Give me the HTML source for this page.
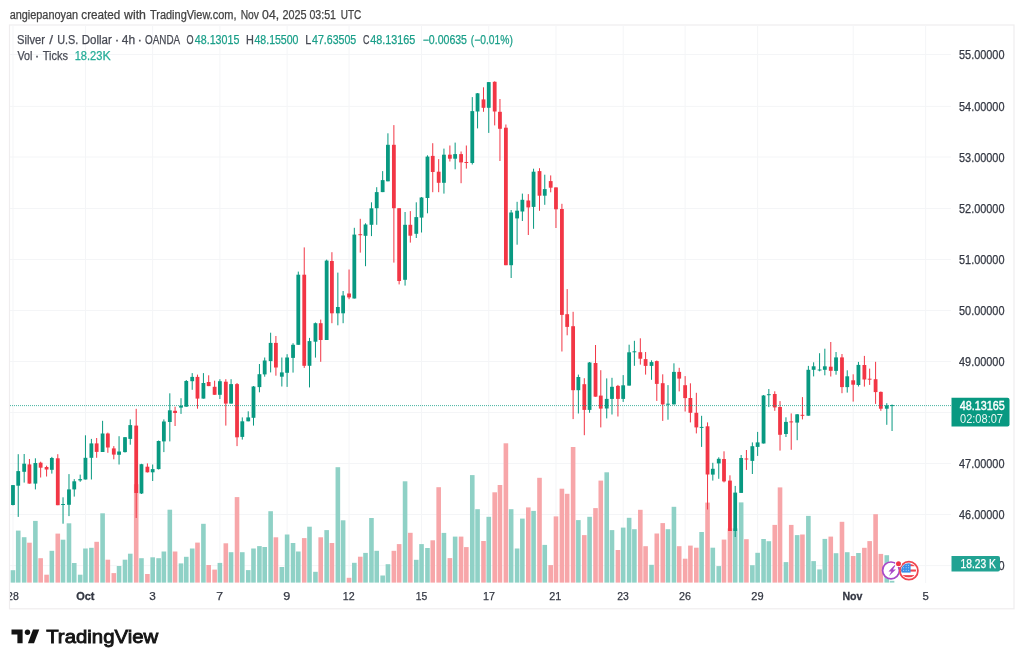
<!DOCTYPE html><html><head><meta charset="utf-8"><title>Silver / U.S. Dollar chart</title>
<style>html,body{margin:0;padding:0;background:#fff;}svg{display:block;will-change:transform}text{font-family:"Liberation Sans",sans-serif}</style></head><body>
<svg width="1024" height="665" viewBox="0 0 1024 665">
<rect x="0" y="0" width="1024" height="665" fill="#ffffff"/>
<text x="9.66" y="18.6" font-size="12" fill="#434343" textLength="68.43" lengthAdjust="spacingAndGlyphs" stroke="#434343" stroke-width="0.25">angiepanoyan</text>
<text x="81.33" y="18.6" font-size="12" fill="#434343" textLength="39.04" lengthAdjust="spacingAndGlyphs" stroke="#434343" stroke-width="0.25">created</text>
<text x="124.00" y="18.6" font-size="12" fill="#434343" textLength="21.94" lengthAdjust="spacingAndGlyphs" stroke="#434343" stroke-width="0.25">with</text>
<text x="149.98" y="18.6" font-size="12" fill="#434343" textLength="86.58" lengthAdjust="spacingAndGlyphs" stroke="#434343" stroke-width="0.25">TradingView.com,</text>
<text x="240.68" y="18.6" font-size="12" fill="#434343" textLength="18.26" lengthAdjust="spacingAndGlyphs" stroke="#434343" stroke-width="0.25">Nov</text>
<text x="262.11" y="18.6" font-size="12" fill="#434343" textLength="16.99" lengthAdjust="spacingAndGlyphs" stroke="#434343" stroke-width="0.25">04,</text>
<text x="282.46" y="18.6" font-size="12" fill="#434343" textLength="24.17" lengthAdjust="spacingAndGlyphs" stroke="#434343" stroke-width="0.25">2025</text>
<text x="309.48" y="18.6" font-size="12" fill="#434343" textLength="26.53" lengthAdjust="spacingAndGlyphs" stroke="#434343" stroke-width="0.25">03:51</text>
<text x="340.65" y="18.6" font-size="12" fill="#434343" textLength="20.61" lengthAdjust="spacingAndGlyphs" stroke="#434343" stroke-width="0.25">UTC</text>
<rect x="9.5" y="25" width="1004.5" height="583.8" fill="#ffffff" stroke="#efedee" stroke-width="1.2"/>
<defs><clipPath id="pane"><rect x="10" y="25" width="941" height="558"/></clipPath><clipPath id="taxis"><rect x="10" y="583" width="1003" height="25.5"/></clipPath></defs>
<g stroke="#f4f5f7" stroke-width="1" clip-path="url(#pane)"><line x1="12.97" y1="25" x2="12.97" y2="583" /><line x1="85.45" y1="25" x2="85.45" y2="583" /><line x1="152.67" y1="25" x2="152.67" y2="583" /><line x1="219.88" y1="25" x2="219.88" y2="583" /><line x1="287.10" y1="25" x2="287.10" y2="583" /><line x1="349.05" y1="25" x2="349.05" y2="583" /><line x1="421.53" y1="25" x2="421.53" y2="583" /><line x1="488.75" y1="25" x2="488.75" y2="583" /><line x1="555.97" y1="25" x2="555.97" y2="583" /><line x1="623.18" y1="25" x2="623.18" y2="583" /><line x1="685.14" y1="25" x2="685.14" y2="583" /><line x1="757.62" y1="25" x2="757.62" y2="583" /><line x1="853.18" y1="25" x2="853.18" y2="583" /><line x1="925.66" y1="25" x2="925.66" y2="583" /><line x1="10" y1="565.60" x2="951" y2="565.60" /><line x1="10" y1="514.50" x2="951" y2="514.50" /><line x1="10" y1="463.50" x2="951" y2="463.50" /><line x1="10" y1="412.50" x2="951" y2="412.50" /><line x1="10" y1="361.50" x2="951" y2="361.50" /><line x1="10" y1="310.50" x2="951" y2="310.50" /><line x1="10" y1="259.50" x2="951" y2="259.50" /><line x1="10" y1="208.50" x2="951" y2="208.50" /><line x1="10" y1="157.00" x2="951" y2="157.00" /><line x1="10" y1="106.40" x2="951" y2="106.40" /><line x1="10" y1="54.50" x2="951" y2="54.50" /></g>
<g clip-path="url(#pane)"><rect x="10.67" y="570.2" width="4.6" height="12.4" fill="#8fd1c6"/><rect x="15.93" y="530.6" width="4.6" height="52.0" fill="#8fd1c6"/><rect x="21.87" y="537.2" width="4.6" height="45.4" fill="#8fd1c6"/><rect x="27.13" y="542.7" width="4.6" height="39.9" fill="#f7a6a9"/><rect x="33.08" y="520.9" width="4.6" height="61.7" fill="#8fd1c6"/><rect x="38.34" y="558.2" width="4.6" height="24.4" fill="#f7a6a9"/><rect x="44.28" y="574.7" width="4.6" height="7.9" fill="#f7a6a9"/><rect x="49.54" y="550.8" width="4.6" height="31.8" fill="#8fd1c6"/><rect x="55.48" y="533.6" width="4.6" height="49.0" fill="#f7a6a9"/><rect x="60.74" y="539.7" width="4.6" height="42.9" fill="#8fd1c6"/><rect x="66.68" y="523.3" width="4.6" height="59.3" fill="#8fd1c6"/><rect x="71.95" y="563.0" width="4.6" height="19.6" fill="#8fd1c6"/><rect x="77.89" y="574.7" width="4.6" height="7.9" fill="#8fd1c6"/><rect x="83.15" y="548.5" width="4.6" height="34.1" fill="#8fd1c6"/><rect x="89.09" y="547.8" width="4.6" height="34.8" fill="#8fd1c6"/><rect x="94.35" y="541.8" width="4.6" height="40.8" fill="#f7a6a9"/><rect x="100.29" y="513.3" width="4.6" height="69.3" fill="#8fd1c6"/><rect x="105.55" y="559.7" width="4.6" height="22.9" fill="#f7a6a9"/><rect x="111.50" y="573.1" width="4.6" height="9.5" fill="#f7a6a9"/><rect x="116.76" y="566.0" width="4.6" height="16.6" fill="#8fd1c6"/><rect x="122.70" y="559.7" width="4.6" height="22.9" fill="#8fd1c6"/><rect x="127.96" y="553.7" width="4.6" height="28.9" fill="#8fd1c6"/><rect x="133.90" y="484.2" width="4.6" height="98.4" fill="#f7a6a9"/><rect x="139.16" y="558.2" width="4.6" height="24.4" fill="#8fd1c6"/><rect x="145.10" y="574.0" width="4.6" height="8.6" fill="#f7a6a9"/><rect x="150.37" y="557.3" width="4.6" height="25.3" fill="#8fd1c6"/><rect x="156.31" y="558.2" width="4.6" height="24.4" fill="#8fd1c6"/><rect x="161.57" y="551.5" width="4.6" height="31.1" fill="#8fd1c6"/><rect x="167.51" y="509.7" width="4.6" height="72.9" fill="#8fd1c6"/><rect x="172.77" y="551.5" width="4.6" height="31.1" fill="#f7a6a9"/><rect x="178.71" y="563.4" width="4.6" height="19.2" fill="#8fd1c6"/><rect x="183.97" y="556.8" width="4.6" height="25.8" fill="#8fd1c6"/><rect x="189.91" y="548.5" width="4.6" height="34.1" fill="#8fd1c6"/><rect x="195.18" y="542.6" width="4.6" height="40.0" fill="#f7a6a9"/><rect x="201.12" y="523.8" width="4.6" height="58.8" fill="#8fd1c6"/><rect x="206.38" y="565.0" width="4.6" height="17.6" fill="#f7a6a9"/><rect x="212.32" y="569.6" width="4.6" height="13.0" fill="#f7a6a9"/><rect x="217.58" y="562.9" width="4.6" height="19.7" fill="#8fd1c6"/><rect x="223.52" y="543.3" width="4.6" height="39.3" fill="#f7a6a9"/><rect x="228.78" y="552.2" width="4.6" height="30.4" fill="#8fd1c6"/><rect x="234.73" y="497.1" width="4.6" height="85.5" fill="#f7a6a9"/><rect x="239.99" y="552.2" width="4.6" height="30.4" fill="#8fd1c6"/><rect x="245.93" y="570.1" width="4.6" height="12.5" fill="#8fd1c6"/><rect x="251.19" y="548.5" width="4.6" height="34.1" fill="#8fd1c6"/><rect x="257.13" y="546.1" width="4.6" height="36.5" fill="#8fd1c6"/><rect x="262.39" y="547.0" width="4.6" height="35.6" fill="#8fd1c6"/><rect x="268.33" y="511.2" width="4.6" height="71.4" fill="#8fd1c6"/><rect x="273.60" y="537.3" width="4.6" height="45.3" fill="#f7a6a9"/><rect x="279.54" y="567.0" width="4.6" height="15.6" fill="#8fd1c6"/><rect x="284.80" y="534.5" width="4.6" height="48.1" fill="#8fd1c6"/><rect x="290.74" y="543.0" width="4.6" height="39.6" fill="#8fd1c6"/><rect x="296.00" y="551.5" width="4.6" height="31.1" fill="#8fd1c6"/><rect x="301.94" y="538.1" width="4.6" height="44.5" fill="#f7a6a9"/><rect x="307.20" y="526.7" width="4.6" height="55.9" fill="#8fd1c6"/><rect x="313.15" y="571.8" width="4.6" height="10.8" fill="#8fd1c6"/><rect x="318.41" y="537.3" width="4.6" height="45.3" fill="#f7a6a9"/><rect x="324.35" y="530.1" width="4.6" height="52.5" fill="#8fd1c6"/><rect x="329.61" y="543.0" width="4.6" height="39.6" fill="#f7a6a9"/><rect x="335.55" y="467.2" width="4.6" height="115.4" fill="#8fd1c6"/><rect x="340.81" y="520.3" width="4.6" height="62.3" fill="#8fd1c6"/><rect x="346.75" y="577.8" width="4.6" height="4.8" fill="#f7a6a9"/><rect x="352.02" y="562.8" width="4.6" height="19.8" fill="#8fd1c6"/><rect x="357.96" y="556.7" width="4.6" height="25.9" fill="#f7a6a9"/><rect x="363.22" y="552.9" width="4.6" height="29.7" fill="#8fd1c6"/><rect x="369.16" y="518.0" width="4.6" height="64.6" fill="#8fd1c6"/><rect x="374.42" y="550.8" width="4.6" height="31.8" fill="#8fd1c6"/><rect x="380.36" y="575.5" width="4.6" height="7.1" fill="#8fd1c6"/><rect x="385.62" y="564.2" width="4.6" height="18.4" fill="#8fd1c6"/><rect x="391.57" y="550.8" width="4.6" height="31.8" fill="#f7a6a9"/><rect x="396.83" y="544.1" width="4.6" height="38.5" fill="#f7a6a9"/><rect x="402.77" y="481.3" width="4.6" height="101.3" fill="#8fd1c6"/><rect x="408.03" y="532.8" width="4.6" height="49.8" fill="#f7a6a9"/><rect x="413.97" y="559.8" width="4.6" height="22.8" fill="#8fd1c6"/><rect x="419.23" y="544.1" width="4.6" height="38.5" fill="#8fd1c6"/><rect x="425.17" y="548.0" width="4.6" height="34.6" fill="#8fd1c6"/><rect x="430.44" y="540.3" width="4.6" height="42.3" fill="#f7a6a9"/><rect x="436.38" y="487.2" width="4.6" height="95.4" fill="#f7a6a9"/><rect x="441.64" y="532.9" width="4.6" height="49.7" fill="#8fd1c6"/><rect x="447.58" y="558.1" width="4.6" height="24.5" fill="#f7a6a9"/><rect x="452.84" y="536.6" width="4.6" height="46.0" fill="#8fd1c6"/><rect x="458.78" y="536.6" width="4.6" height="46.0" fill="#f7a6a9"/><rect x="464.04" y="547.1" width="4.6" height="35.5" fill="#f7a6a9"/><rect x="469.98" y="475.1" width="4.6" height="107.5" fill="#8fd1c6"/><rect x="475.25" y="509.2" width="4.6" height="73.4" fill="#8fd1c6"/><rect x="481.19" y="541.0" width="4.6" height="41.6" fill="#f7a6a9"/><rect x="486.45" y="516.8" width="4.6" height="65.8" fill="#8fd1c6"/><rect x="492.39" y="492.3" width="4.6" height="90.3" fill="#f7a6a9"/><rect x="497.65" y="485.0" width="4.6" height="97.6" fill="#f7a6a9"/><rect x="503.59" y="443.3" width="4.6" height="139.3" fill="#f7a6a9"/><rect x="508.85" y="509.2" width="4.6" height="73.4" fill="#8fd1c6"/><rect x="514.80" y="548.5" width="4.6" height="34.1" fill="#8fd1c6"/><rect x="520.06" y="518.6" width="4.6" height="64.0" fill="#8fd1c6"/><rect x="526.00" y="507.4" width="4.6" height="75.2" fill="#f7a6a9"/><rect x="531.26" y="510.9" width="4.6" height="71.7" fill="#8fd1c6"/><rect x="537.20" y="477.8" width="4.6" height="104.8" fill="#f7a6a9"/><rect x="542.46" y="544.9" width="4.6" height="37.7" fill="#8fd1c6"/><rect x="548.40" y="565.1" width="4.6" height="17.5" fill="#f7a6a9"/><rect x="553.67" y="516.4" width="4.6" height="66.2" fill="#f7a6a9"/><rect x="559.61" y="488.7" width="4.6" height="93.9" fill="#f7a6a9"/><rect x="564.87" y="493.8" width="4.6" height="88.8" fill="#f7a6a9"/><rect x="570.81" y="447.0" width="4.6" height="135.6" fill="#f7a6a9"/><rect x="576.07" y="520.1" width="4.6" height="62.5" fill="#8fd1c6"/><rect x="582.01" y="535.1" width="4.6" height="47.5" fill="#f7a6a9"/><rect x="587.27" y="516.8" width="4.6" height="65.8" fill="#8fd1c6"/><rect x="593.22" y="508.1" width="4.6" height="74.5" fill="#f7a6a9"/><rect x="598.48" y="480.6" width="4.6" height="102.0" fill="#f7a6a9"/><rect x="604.42" y="472.3" width="4.6" height="110.3" fill="#8fd1c6"/><rect x="609.68" y="530.1" width="4.6" height="52.5" fill="#8fd1c6"/><rect x="615.62" y="550.0" width="4.6" height="32.6" fill="#f7a6a9"/><rect x="620.88" y="527.6" width="4.6" height="55.0" fill="#8fd1c6"/><rect x="626.82" y="517.8" width="4.6" height="64.8" fill="#8fd1c6"/><rect x="632.09" y="529.2" width="4.6" height="53.4" fill="#8fd1c6"/><rect x="638.03" y="509.8" width="4.6" height="72.8" fill="#f7a6a9"/><rect x="643.29" y="546.2" width="4.6" height="36.4" fill="#f7a6a9"/><rect x="649.23" y="564.8" width="4.6" height="17.8" fill="#8fd1c6"/><rect x="654.49" y="533.5" width="4.6" height="49.1" fill="#f7a6a9"/><rect x="660.43" y="523.1" width="4.6" height="59.5" fill="#f7a6a9"/><rect x="665.69" y="529.2" width="4.6" height="53.4" fill="#8fd1c6"/><rect x="671.64" y="506.8" width="4.6" height="75.8" fill="#8fd1c6"/><rect x="676.90" y="546.2" width="4.6" height="36.4" fill="#f7a6a9"/><rect x="682.84" y="558.7" width="4.6" height="23.9" fill="#f7a6a9"/><rect x="688.10" y="545.6" width="4.6" height="37.0" fill="#f7a6a9"/><rect x="694.04" y="547.7" width="4.6" height="34.9" fill="#f7a6a9"/><rect x="699.30" y="532.0" width="4.6" height="50.6" fill="#8fd1c6"/><rect x="705.24" y="502.6" width="4.6" height="80.0" fill="#f7a6a9"/><rect x="710.50" y="547.7" width="4.6" height="34.9" fill="#8fd1c6"/><rect x="716.45" y="566.1" width="4.6" height="16.5" fill="#8fd1c6"/><rect x="721.71" y="539.6" width="4.6" height="43.0" fill="#f7a6a9"/><rect x="727.65" y="528.4" width="4.6" height="54.2" fill="#f7a6a9"/><rect x="732.91" y="528.4" width="4.6" height="54.2" fill="#8fd1c6"/><rect x="738.85" y="502.4" width="4.6" height="80.2" fill="#8fd1c6"/><rect x="744.11" y="539.2" width="4.6" height="43.4" fill="#f7a6a9"/><rect x="750.05" y="565.2" width="4.6" height="17.4" fill="#8fd1c6"/><rect x="755.32" y="552.8" width="4.6" height="29.8" fill="#8fd1c6"/><rect x="761.26" y="539.0" width="4.6" height="43.6" fill="#8fd1c6"/><rect x="766.52" y="541.2" width="4.6" height="41.4" fill="#8fd1c6"/><rect x="772.46" y="524.9" width="4.6" height="57.7" fill="#f7a6a9"/><rect x="777.72" y="487.4" width="4.6" height="95.2" fill="#f7a6a9"/><rect x="783.66" y="562.1" width="4.6" height="20.5" fill="#8fd1c6"/><rect x="788.92" y="524.9" width="4.6" height="57.7" fill="#f7a6a9"/><rect x="794.87" y="535.1" width="4.6" height="47.5" fill="#8fd1c6"/><rect x="800.13" y="534.5" width="4.6" height="48.1" fill="#f7a6a9"/><rect x="806.07" y="515.9" width="4.6" height="66.7" fill="#8fd1c6"/><rect x="811.33" y="561.1" width="4.6" height="21.5" fill="#8fd1c6"/><rect x="817.27" y="569.4" width="4.6" height="13.2" fill="#8fd1c6"/><rect x="822.53" y="538.9" width="4.6" height="43.7" fill="#8fd1c6"/><rect x="828.47" y="536.6" width="4.6" height="46.0" fill="#f7a6a9"/><rect x="833.74" y="553.2" width="4.6" height="29.4" fill="#8fd1c6"/><rect x="839.68" y="521.8" width="4.6" height="60.8" fill="#f7a6a9"/><rect x="844.94" y="552.2" width="4.6" height="30.4" fill="#8fd1c6"/><rect x="850.88" y="556.0" width="4.6" height="26.6" fill="#f7a6a9"/><rect x="856.14" y="553.0" width="4.6" height="29.6" fill="#8fd1c6"/><rect x="862.08" y="547.8" width="4.6" height="34.8" fill="#f7a6a9"/><rect x="867.34" y="541.1" width="4.6" height="41.5" fill="#f7a6a9"/><rect x="873.29" y="514.2" width="4.6" height="68.4" fill="#f7a6a9"/><rect x="878.55" y="553.9" width="4.6" height="28.7" fill="#f7a6a9"/><rect x="884.49" y="555.2" width="4.6" height="27.4" fill="#8fd1c6"/><rect x="889.75" y="580.8" width="4.6" height="1.8" fill="#8fd1c6"/></g>
<g clip-path="url(#pane)"><rect x="12.47" y="485.0" width="1" height="20.4" fill="#089981"/><rect x="11.07" y="485.1" width="3.8" height="19.9" fill="#089981"/><rect x="17.73" y="454.2" width="1" height="62.7" fill="#089981"/><rect x="16.33" y="471.1" width="3.8" height="14.6" fill="#089981"/><rect x="23.67" y="454.0" width="1" height="28.6" fill="#089981"/><rect x="22.27" y="463.7" width="3.8" height="8.1" fill="#089981"/><rect x="28.93" y="459.0" width="1" height="24.6" fill="#f23645"/><rect x="27.53" y="464.4" width="3.8" height="19.2" fill="#f23645"/><rect x="34.88" y="458.3" width="1" height="31.1" fill="#089981"/><rect x="33.48" y="463.0" width="3.8" height="20.6" fill="#089981"/><rect x="40.14" y="461.7" width="1" height="15.8" fill="#f23645"/><rect x="38.74" y="462.7" width="3.8" height="5.0" fill="#f23645"/><rect x="46.08" y="465.7" width="1" height="10.8" fill="#f23645"/><rect x="44.68" y="467.0" width="3.8" height="2.5" fill="#f23645"/><rect x="51.34" y="456.9" width="1" height="16.7" fill="#089981"/><rect x="49.94" y="458.0" width="3.8" height="11.8" fill="#089981"/><rect x="57.28" y="454.2" width="1" height="51.0" fill="#f23645"/><rect x="55.88" y="458.3" width="3.8" height="46.9" fill="#f23645"/><rect x="62.54" y="497.3" width="1" height="26.4" fill="#089981"/><rect x="61.14" y="504.0" width="3.8" height="1.0" fill="#089981"/><rect x="68.48" y="474.1" width="1" height="42.0" fill="#089981"/><rect x="67.08" y="489.4" width="3.8" height="15.4" fill="#089981"/><rect x="73.75" y="479.1" width="1" height="17.5" fill="#089981"/><rect x="72.35" y="481.3" width="3.8" height="8.1" fill="#089981"/><rect x="79.69" y="474.6" width="1" height="7.2" fill="#089981"/><rect x="78.29" y="479.1" width="3.8" height="1.3" fill="#089981"/><rect x="84.95" y="435.3" width="1" height="44.2" fill="#089981"/><rect x="83.55" y="457.8" width="3.8" height="21.7" fill="#089981"/><rect x="90.89" y="438.9" width="1" height="40.6" fill="#089981"/><rect x="89.49" y="443.4" width="3.8" height="14.4" fill="#089981"/><rect x="96.15" y="438.0" width="1" height="19.8" fill="#f23645"/><rect x="94.75" y="443.4" width="3.8" height="8.5" fill="#f23645"/><rect x="102.09" y="420.8" width="1" height="31.2" fill="#089981"/><rect x="100.69" y="433.5" width="3.8" height="18.5" fill="#089981"/><rect x="107.35" y="432.6" width="1" height="20.2" fill="#f23645"/><rect x="105.95" y="433.5" width="3.8" height="14.0" fill="#f23645"/><rect x="113.30" y="446.1" width="1" height="13.2" fill="#f23645"/><rect x="111.90" y="448.4" width="3.8" height="6.2" fill="#f23645"/><rect x="118.56" y="436.2" width="1" height="28.3" fill="#089981"/><rect x="117.16" y="451.5" width="3.8" height="3.3" fill="#089981"/><rect x="124.50" y="437.0" width="1" height="15.5" fill="#089981"/><rect x="123.10" y="437.2" width="3.8" height="14.9" fill="#089981"/><rect x="129.76" y="419.4" width="1" height="25.3" fill="#089981"/><rect x="128.36" y="425.1" width="3.8" height="13.8" fill="#089981"/><rect x="135.70" y="408.8" width="1" height="109.2" fill="#f23645"/><rect x="134.30" y="425.6" width="3.8" height="67.4" fill="#f23645"/><rect x="140.96" y="463.8" width="1" height="30.2" fill="#089981"/><rect x="139.56" y="464.2" width="3.8" height="29.3" fill="#089981"/><rect x="146.90" y="463.4" width="1" height="9.1" fill="#f23645"/><rect x="145.50" y="466.7" width="3.8" height="5.6" fill="#f23645"/><rect x="152.17" y="464.5" width="1" height="16.5" fill="#089981"/><rect x="150.77" y="469.1" width="3.8" height="3.2" fill="#089981"/><rect x="158.11" y="440.5" width="1" height="29.0" fill="#089981"/><rect x="156.71" y="441.0" width="3.8" height="28.1" fill="#089981"/><rect x="163.37" y="419.4" width="1" height="32.7" fill="#089981"/><rect x="161.97" y="421.5" width="3.8" height="19.9" fill="#089981"/><rect x="169.31" y="393.3" width="1" height="48.1" fill="#089981"/><rect x="167.91" y="410.3" width="3.8" height="11.7" fill="#089981"/><rect x="174.57" y="406.7" width="1" height="19.3" fill="#f23645"/><rect x="173.17" y="410.8" width="3.8" height="2.2" fill="#f23645"/><rect x="180.51" y="398.2" width="1" height="15.7" fill="#089981"/><rect x="179.11" y="405.7" width="3.8" height="1.9" fill="#089981"/><rect x="185.77" y="380.0" width="1" height="26.7" fill="#089981"/><rect x="184.37" y="381.0" width="3.8" height="25.7" fill="#089981"/><rect x="191.71" y="373.1" width="1" height="16.7" fill="#089981"/><rect x="190.31" y="376.9" width="3.8" height="4.3" fill="#089981"/><rect x="196.98" y="374.6" width="1" height="34.1" fill="#f23645"/><rect x="195.58" y="376.9" width="3.8" height="21.7" fill="#f23645"/><rect x="202.92" y="373.1" width="1" height="25.5" fill="#089981"/><rect x="201.52" y="383.0" width="3.8" height="15.6" fill="#089981"/><rect x="208.18" y="375.3" width="1" height="10.8" fill="#f23645"/><rect x="206.78" y="382.0" width="3.8" height="4.1" fill="#f23645"/><rect x="214.12" y="380.7" width="1" height="14.1" fill="#f23645"/><rect x="212.72" y="386.8" width="3.8" height="8.0" fill="#f23645"/><rect x="219.38" y="379.2" width="1" height="19.8" fill="#089981"/><rect x="217.98" y="381.2" width="3.8" height="13.6" fill="#089981"/><rect x="225.32" y="379.2" width="1" height="46.4" fill="#f23645"/><rect x="223.92" y="381.7" width="3.8" height="21.9" fill="#f23645"/><rect x="230.58" y="379.2" width="1" height="24.4" fill="#089981"/><rect x="229.18" y="384.1" width="3.8" height="19.5" fill="#089981"/><rect x="236.53" y="383.0" width="1" height="63.1" fill="#f23645"/><rect x="235.13" y="384.1" width="3.8" height="53.2" fill="#f23645"/><rect x="241.79" y="417.4" width="1" height="22.2" fill="#089981"/><rect x="240.39" y="421.3" width="3.8" height="15.6" fill="#089981"/><rect x="247.73" y="411.3" width="1" height="10.0" fill="#089981"/><rect x="246.33" y="417.4" width="3.8" height="3.9" fill="#089981"/><rect x="252.99" y="386.0" width="1" height="39.6" fill="#089981"/><rect x="251.59" y="386.5" width="3.8" height="31.3" fill="#089981"/><rect x="258.93" y="364.0" width="1" height="28.3" fill="#089981"/><rect x="257.53" y="374.2" width="3.8" height="12.9" fill="#089981"/><rect x="264.19" y="357.5" width="1" height="19.2" fill="#089981"/><rect x="262.79" y="360.5" width="3.8" height="13.9" fill="#089981"/><rect x="270.13" y="332.7" width="1" height="39.7" fill="#089981"/><rect x="268.73" y="342.9" width="3.8" height="18.2" fill="#089981"/><rect x="275.40" y="336.0" width="1" height="39.7" fill="#f23645"/><rect x="274.00" y="342.9" width="3.8" height="24.6" fill="#f23645"/><rect x="281.34" y="357.5" width="1" height="29.0" fill="#089981"/><rect x="279.94" y="372.4" width="3.8" height="4.3" fill="#089981"/><rect x="286.60" y="354.2" width="1" height="32.7" fill="#089981"/><rect x="285.20" y="357.5" width="3.8" height="15.3" fill="#089981"/><rect x="292.54" y="343.2" width="1" height="29.4" fill="#089981"/><rect x="291.14" y="344.8" width="3.8" height="13.1" fill="#089981"/><rect x="297.80" y="271.6" width="1" height="73.2" fill="#089981"/><rect x="296.40" y="274.7" width="3.8" height="70.1" fill="#089981"/><rect x="303.74" y="247.4" width="1" height="120.5" fill="#f23645"/><rect x="302.34" y="274.7" width="3.8" height="91.1" fill="#f23645"/><rect x="309.00" y="337.9" width="1" height="49.5" fill="#089981"/><rect x="307.60" y="341.1" width="3.8" height="24.7" fill="#089981"/><rect x="314.95" y="322.5" width="1" height="35.1" fill="#089981"/><rect x="313.55" y="323.2" width="3.8" height="18.5" fill="#089981"/><rect x="320.21" y="319.6" width="1" height="42.2" fill="#f23645"/><rect x="318.81" y="323.2" width="3.8" height="16.8" fill="#f23645"/><rect x="326.15" y="259.6" width="1" height="80.4" fill="#089981"/><rect x="324.75" y="260.6" width="3.8" height="79.4" fill="#089981"/><rect x="331.41" y="252.2" width="1" height="71.0" fill="#f23645"/><rect x="330.01" y="261.0" width="3.8" height="52.3" fill="#f23645"/><rect x="337.35" y="272.6" width="1" height="52.7" fill="#089981"/><rect x="335.95" y="307.0" width="3.8" height="6.3" fill="#089981"/><rect x="342.61" y="291.0" width="1" height="32.2" fill="#089981"/><rect x="341.21" y="295.5" width="3.8" height="17.8" fill="#089981"/><rect x="348.55" y="269.5" width="1" height="29.7" fill="#f23645"/><rect x="347.15" y="293.5" width="3.8" height="3.9" fill="#f23645"/><rect x="353.82" y="227.8" width="1" height="70.7" fill="#089981"/><rect x="352.42" y="234.6" width="3.8" height="63.9" fill="#089981"/><rect x="359.76" y="218.8" width="1" height="33.8" fill="#f23645"/><rect x="358.36" y="234.2" width="3.8" height="1.0" fill="#f23645"/><rect x="365.02" y="223.3" width="1" height="42.9" fill="#089981"/><rect x="363.62" y="224.5" width="3.8" height="11.3" fill="#089981"/><rect x="370.96" y="202.3" width="1" height="33.8" fill="#089981"/><rect x="369.56" y="208.3" width="3.8" height="16.5" fill="#089981"/><rect x="376.22" y="187.2" width="1" height="37.6" fill="#089981"/><rect x="374.82" y="192.1" width="3.8" height="16.1" fill="#089981"/><rect x="382.16" y="171.1" width="1" height="21.0" fill="#089981"/><rect x="380.76" y="180.1" width="3.8" height="12.0" fill="#089981"/><rect x="387.42" y="133.3" width="1" height="48.0" fill="#089981"/><rect x="386.02" y="144.8" width="3.8" height="36.5" fill="#089981"/><rect x="393.37" y="125.1" width="1" height="137.5" fill="#f23645"/><rect x="391.97" y="144.8" width="3.8" height="63.4" fill="#f23645"/><rect x="398.63" y="208.2" width="1" height="76.2" fill="#f23645"/><rect x="397.23" y="208.2" width="3.8" height="72.8" fill="#f23645"/><rect x="404.57" y="212.0" width="1" height="73.6" fill="#089981"/><rect x="403.17" y="224.8" width="3.8" height="55.0" fill="#089981"/><rect x="409.83" y="211.1" width="1" height="31.5" fill="#f23645"/><rect x="408.43" y="224.8" width="3.8" height="10.9" fill="#f23645"/><rect x="415.77" y="202.3" width="1" height="35.7" fill="#089981"/><rect x="414.37" y="217.1" width="3.8" height="16.7" fill="#089981"/><rect x="421.03" y="197.0" width="1" height="35.5" fill="#089981"/><rect x="419.63" y="197.5" width="3.8" height="20.1" fill="#089981"/><rect x="426.97" y="155.3" width="1" height="58.0" fill="#089981"/><rect x="425.57" y="156.6" width="3.8" height="41.4" fill="#089981"/><rect x="432.24" y="143.2" width="1" height="49.0" fill="#f23645"/><rect x="430.84" y="155.9" width="3.8" height="16.1" fill="#f23645"/><rect x="438.18" y="159.1" width="1" height="33.1" fill="#f23645"/><rect x="436.78" y="171.7" width="3.8" height="11.1" fill="#f23645"/><rect x="443.44" y="148.6" width="1" height="45.0" fill="#089981"/><rect x="442.04" y="154.7" width="3.8" height="28.1" fill="#089981"/><rect x="449.38" y="145.5" width="1" height="16.0" fill="#f23645"/><rect x="447.98" y="154.7" width="3.8" height="4.0" fill="#f23645"/><rect x="454.64" y="142.6" width="1" height="26.7" fill="#089981"/><rect x="453.24" y="154.1" width="3.8" height="4.6" fill="#089981"/><rect x="460.58" y="151.5" width="1" height="31.7" fill="#f23645"/><rect x="459.18" y="154.1" width="3.8" height="8.3" fill="#f23645"/><rect x="465.84" y="145.5" width="1" height="23.1" fill="#f23645"/><rect x="464.44" y="162.0" width="3.8" height="1.0" fill="#f23645"/><rect x="471.78" y="97.1" width="1" height="67.4" fill="#089981"/><rect x="470.38" y="111.1" width="3.8" height="51.9" fill="#089981"/><rect x="477.05" y="93.0" width="1" height="35.4" fill="#089981"/><rect x="475.65" y="93.3" width="3.8" height="18.2" fill="#089981"/><rect x="482.99" y="87.3" width="1" height="24.5" fill="#f23645"/><rect x="481.59" y="99.4" width="3.8" height="8.4" fill="#f23645"/><rect x="488.25" y="82.0" width="1" height="50.9" fill="#089981"/><rect x="486.85" y="82.1" width="3.8" height="25.7" fill="#089981"/><rect x="494.19" y="81.3" width="1" height="44.1" fill="#f23645"/><rect x="492.79" y="81.8" width="3.8" height="29.7" fill="#f23645"/><rect x="499.45" y="99.0" width="1" height="62.0" fill="#f23645"/><rect x="498.05" y="111.8" width="3.8" height="17.0" fill="#f23645"/><rect x="505.39" y="124.5" width="1" height="140.7" fill="#f23645"/><rect x="503.99" y="127.7" width="3.8" height="137.5" fill="#f23645"/><rect x="510.65" y="210.0" width="1" height="68.0" fill="#089981"/><rect x="509.25" y="212.5" width="3.8" height="52.7" fill="#089981"/><rect x="516.60" y="201.8" width="1" height="42.9" fill="#089981"/><rect x="515.20" y="210.7" width="3.8" height="7.7" fill="#089981"/><rect x="521.86" y="193.6" width="1" height="27.4" fill="#089981"/><rect x="520.46" y="199.8" width="3.8" height="11.7" fill="#089981"/><rect x="527.80" y="194.1" width="1" height="40.9" fill="#f23645"/><rect x="526.40" y="200.5" width="3.8" height="6.9" fill="#f23645"/><rect x="533.06" y="168.7" width="1" height="60.1" fill="#089981"/><rect x="531.66" y="171.7" width="3.8" height="35.2" fill="#089981"/><rect x="539.00" y="168.2" width="1" height="42.6" fill="#f23645"/><rect x="537.60" y="171.1" width="3.8" height="24.6" fill="#f23645"/><rect x="544.26" y="174.7" width="1" height="30.1" fill="#089981"/><rect x="542.86" y="189.1" width="3.8" height="6.6" fill="#089981"/><rect x="550.20" y="175.4" width="1" height="16.9" fill="#f23645"/><rect x="548.80" y="181.1" width="3.8" height="6.6" fill="#f23645"/><rect x="555.47" y="187.4" width="1" height="40.6" fill="#f23645"/><rect x="554.07" y="187.4" width="3.8" height="21.9" fill="#f23645"/><rect x="561.41" y="203.8" width="1" height="147.7" fill="#f23645"/><rect x="560.01" y="209.0" width="3.8" height="105.9" fill="#f23645"/><rect x="566.67" y="289.1" width="1" height="46.2" fill="#f23645"/><rect x="565.27" y="314.2" width="3.8" height="12.7" fill="#f23645"/><rect x="572.61" y="311.8" width="1" height="107.3" fill="#f23645"/><rect x="571.21" y="326.2" width="3.8" height="64.0" fill="#f23645"/><rect x="577.87" y="374.6" width="1" height="38.9" fill="#089981"/><rect x="576.47" y="377.0" width="3.8" height="13.2" fill="#089981"/><rect x="583.81" y="378.2" width="1" height="57.0" fill="#f23645"/><rect x="582.41" y="384.2" width="3.8" height="25.7" fill="#f23645"/><rect x="589.07" y="362.0" width="1" height="50.8" fill="#089981"/><rect x="587.67" y="362.5" width="3.8" height="47.4" fill="#089981"/><rect x="595.02" y="345.0" width="1" height="51.7" fill="#f23645"/><rect x="593.62" y="363.0" width="3.8" height="33.7" fill="#f23645"/><rect x="600.28" y="370.2" width="1" height="57.2" fill="#f23645"/><rect x="598.88" y="395.6" width="3.8" height="13.0" fill="#f23645"/><rect x="606.22" y="378.4" width="1" height="40.0" fill="#089981"/><rect x="604.82" y="398.9" width="3.8" height="9.6" fill="#089981"/><rect x="611.48" y="377.8" width="1" height="36.7" fill="#089981"/><rect x="610.08" y="386.8" width="3.8" height="12.1" fill="#089981"/><rect x="617.42" y="384.9" width="1" height="31.6" fill="#f23645"/><rect x="616.02" y="385.9" width="3.8" height="13.0" fill="#f23645"/><rect x="622.68" y="375.1" width="1" height="26.8" fill="#089981"/><rect x="621.28" y="385.3" width="3.8" height="13.6" fill="#089981"/><rect x="628.62" y="344.7" width="1" height="40.9" fill="#089981"/><rect x="627.22" y="352.3" width="3.8" height="33.3" fill="#089981"/><rect x="633.89" y="340.8" width="1" height="25.0" fill="#089981"/><rect x="632.49" y="351.3" width="3.8" height="1.0" fill="#089981"/><rect x="639.83" y="338.3" width="1" height="26.3" fill="#f23645"/><rect x="638.43" y="352.2" width="3.8" height="6.5" fill="#f23645"/><rect x="645.09" y="352.0" width="1" height="22.6" fill="#f23645"/><rect x="643.69" y="359.1" width="3.8" height="6.8" fill="#f23645"/><rect x="651.03" y="360.3" width="1" height="19.5" fill="#089981"/><rect x="649.63" y="362.1" width="3.8" height="3.8" fill="#089981"/><rect x="656.29" y="360.5" width="1" height="40.4" fill="#f23645"/><rect x="654.89" y="361.1" width="3.8" height="22.8" fill="#f23645"/><rect x="662.23" y="374.3" width="1" height="46.6" fill="#f23645"/><rect x="660.83" y="383.2" width="3.8" height="21.2" fill="#f23645"/><rect x="667.49" y="385.1" width="1" height="34.6" fill="#089981"/><rect x="666.09" y="403.7" width="3.8" height="1.0" fill="#089981"/><rect x="673.44" y="363.3" width="1" height="41.1" fill="#089981"/><rect x="672.04" y="371.9" width="3.8" height="32.5" fill="#089981"/><rect x="678.70" y="367.8" width="1" height="23.6" fill="#f23645"/><rect x="677.30" y="371.9" width="3.8" height="6.7" fill="#f23645"/><rect x="684.64" y="376.1" width="1" height="35.4" fill="#f23645"/><rect x="683.24" y="385.2" width="3.8" height="12.9" fill="#f23645"/><rect x="689.90" y="383.3" width="1" height="39.1" fill="#f23645"/><rect x="688.50" y="398.0" width="3.8" height="14.8" fill="#f23645"/><rect x="695.84" y="392.8" width="1" height="40.6" fill="#f23645"/><rect x="694.44" y="412.8" width="3.8" height="14.6" fill="#f23645"/><rect x="701.10" y="415.8" width="1" height="31.1" fill="#089981"/><rect x="699.70" y="426.9" width="3.8" height="1.0" fill="#089981"/><rect x="707.04" y="422.4" width="1" height="87.1" fill="#f23645"/><rect x="705.64" y="426.3" width="3.8" height="48.2" fill="#f23645"/><rect x="712.30" y="462.8" width="1" height="17.8" fill="#089981"/><rect x="710.90" y="468.8" width="3.8" height="5.8" fill="#089981"/><rect x="718.25" y="457.3" width="1" height="21.5" fill="#089981"/><rect x="716.85" y="458.8" width="3.8" height="4.6" fill="#089981"/><rect x="723.51" y="451.3" width="1" height="31.1" fill="#f23645"/><rect x="722.11" y="459.0" width="3.8" height="22.4" fill="#f23645"/><rect x="729.45" y="475.3" width="1" height="55.7" fill="#f23645"/><rect x="728.05" y="480.6" width="3.8" height="50.4" fill="#f23645"/><rect x="734.71" y="485.9" width="1" height="51.1" fill="#089981"/><rect x="733.31" y="492.6" width="3.8" height="38.4" fill="#089981"/><rect x="740.65" y="455.0" width="1" height="37.9" fill="#089981"/><rect x="739.25" y="458.0" width="3.8" height="34.9" fill="#089981"/><rect x="745.91" y="450.0" width="1" height="19.9" fill="#f23645"/><rect x="744.51" y="458.5" width="3.8" height="1.0" fill="#f23645"/><rect x="751.85" y="442.4" width="1" height="31.6" fill="#089981"/><rect x="750.45" y="446.2" width="3.8" height="14.7" fill="#089981"/><rect x="757.12" y="431.9" width="1" height="24.0" fill="#089981"/><rect x="755.72" y="442.4" width="3.8" height="4.5" fill="#089981"/><rect x="763.06" y="395.0" width="1" height="48.5" fill="#089981"/><rect x="761.66" y="395.5" width="3.8" height="48.0" fill="#089981"/><rect x="768.32" y="389.0" width="1" height="18.1" fill="#089981"/><rect x="766.92" y="394.2" width="3.8" height="1.0" fill="#089981"/><rect x="774.26" y="391.3" width="1" height="19.5" fill="#f23645"/><rect x="772.86" y="394.0" width="3.8" height="13.4" fill="#f23645"/><rect x="779.52" y="401.1" width="1" height="49.5" fill="#f23645"/><rect x="778.12" y="407.0" width="3.8" height="27.8" fill="#f23645"/><rect x="785.46" y="417.3" width="1" height="19.7" fill="#089981"/><rect x="784.06" y="421.9" width="3.8" height="12.1" fill="#089981"/><rect x="790.72" y="413.4" width="1" height="36.4" fill="#f23645"/><rect x="789.32" y="421.4" width="3.8" height="1.0" fill="#f23645"/><rect x="796.67" y="414.0" width="1" height="26.2" fill="#089981"/><rect x="795.27" y="414.3" width="3.8" height="8.3" fill="#089981"/><rect x="801.93" y="397.1" width="1" height="22.3" fill="#f23645"/><rect x="800.53" y="414.8" width="3.8" height="1.0" fill="#f23645"/><rect x="807.87" y="365.9" width="1" height="49.8" fill="#089981"/><rect x="806.47" y="369.8" width="3.8" height="45.9" fill="#089981"/><rect x="813.13" y="362.3" width="1" height="14.1" fill="#089981"/><rect x="811.73" y="366.3" width="3.8" height="3.5" fill="#089981"/><rect x="819.07" y="353.2" width="1" height="18.1" fill="#089981"/><rect x="817.67" y="369.5" width="3.8" height="1.0" fill="#089981"/><rect x="824.33" y="348.7" width="1" height="26.6" fill="#089981"/><rect x="822.93" y="366.3" width="3.8" height="3.5" fill="#089981"/><rect x="830.27" y="342.0" width="1" height="34.5" fill="#f23645"/><rect x="828.87" y="366.7" width="3.8" height="4.1" fill="#f23645"/><rect x="835.54" y="352.0" width="1" height="22.7" fill="#089981"/><rect x="834.14" y="357.4" width="3.8" height="13.5" fill="#089981"/><rect x="841.48" y="354.0" width="1" height="39.2" fill="#f23645"/><rect x="840.08" y="357.4" width="3.8" height="29.7" fill="#f23645"/><rect x="846.74" y="370.3" width="1" height="22.3" fill="#089981"/><rect x="845.34" y="376.3" width="3.8" height="10.8" fill="#089981"/><rect x="852.68" y="374.3" width="1" height="27.3" fill="#f23645"/><rect x="851.28" y="380.3" width="3.8" height="4.4" fill="#f23645"/><rect x="857.94" y="361.9" width="1" height="24.6" fill="#089981"/><rect x="856.54" y="364.9" width="3.8" height="20.1" fill="#089981"/><rect x="863.88" y="355.9" width="1" height="30.7" fill="#f23645"/><rect x="862.48" y="365.0" width="3.8" height="14.5" fill="#f23645"/><rect x="869.14" y="368.6" width="1" height="16.3" fill="#f23645"/><rect x="867.74" y="378.7" width="3.8" height="1.0" fill="#f23645"/><rect x="875.09" y="361.8" width="1" height="42.1" fill="#f23645"/><rect x="873.69" y="379.2" width="3.8" height="12.9" fill="#f23645"/><rect x="880.35" y="391.5" width="1" height="19.3" fill="#f23645"/><rect x="878.95" y="391.9" width="3.8" height="16.8" fill="#f23645"/><rect x="886.29" y="403.2" width="1" height="21.6" fill="#089981"/><rect x="884.89" y="405.3" width="3.8" height="3.4" fill="#089981"/><rect x="891.55" y="404.5" width="1" height="26.5" fill="#089981"/><rect x="890.15" y="405.1" width="3.8" height="1.0" fill="#089981"/></g>
<line x1="10" y1="405.6" x2="951" y2="405.6" stroke="#089981" stroke-width="1" stroke-dasharray="1 1" stroke-opacity="0.75"/>
<text x="1004.5" y="59.10" font-size="12.3" fill="#343843" text-anchor="end" textLength="45.5" lengthAdjust="spacingAndGlyphs" stroke="#343843" stroke-width="0.25">55.00000</text><text x="1004.5" y="111.00" font-size="12.3" fill="#343843" text-anchor="end" textLength="45.5" lengthAdjust="spacingAndGlyphs" stroke="#343843" stroke-width="0.25">54.00000</text><text x="1004.5" y="161.60" font-size="12.3" fill="#343843" text-anchor="end" textLength="45.5" lengthAdjust="spacingAndGlyphs" stroke="#343843" stroke-width="0.25">53.00000</text><text x="1004.5" y="213.10" font-size="12.3" fill="#343843" text-anchor="end" textLength="45.5" lengthAdjust="spacingAndGlyphs" stroke="#343843" stroke-width="0.25">52.00000</text><text x="1004.5" y="264.10" font-size="12.3" fill="#343843" text-anchor="end" textLength="45.5" lengthAdjust="spacingAndGlyphs" stroke="#343843" stroke-width="0.25">51.00000</text><text x="1004.5" y="315.10" font-size="12.3" fill="#343843" text-anchor="end" textLength="45.5" lengthAdjust="spacingAndGlyphs" stroke="#343843" stroke-width="0.25">50.00000</text><text x="1004.5" y="366.10" font-size="12.3" fill="#343843" text-anchor="end" textLength="45.5" lengthAdjust="spacingAndGlyphs" stroke="#343843" stroke-width="0.25">49.00000</text><text x="1004.5" y="468.10" font-size="12.3" fill="#343843" text-anchor="end" textLength="45.5" lengthAdjust="spacingAndGlyphs" stroke="#343843" stroke-width="0.25">47.00000</text><text x="1004.5" y="519.10" font-size="12.3" fill="#343843" text-anchor="end" textLength="45.5" lengthAdjust="spacingAndGlyphs" stroke="#343843" stroke-width="0.25">46.00000</text><text x="1004.5" y="570.20" font-size="12.3" fill="#343843" text-anchor="end" textLength="45.5" lengthAdjust="spacingAndGlyphs" stroke="#343843" stroke-width="0.25">45.00000</text>
<path d="M951.5 397.8 H1007.5 Q1009.5 397.8 1009.5 399.8 V424.6 Q1009.5 426.6 1007.5 426.6 H951.5 Z" fill="#089981"/>
<text x="1004.8" y="410.1" font-size="12.3" fill="#ffffff" stroke="#ffffff" stroke-width="0.4" text-anchor="end" textLength="45" lengthAdjust="spacingAndGlyphs">48.13165</text>
<text x="1003" y="422.9" font-size="12.3" fill="#eaf6f3" stroke="none" text-anchor="end" textLength="43" lengthAdjust="spacingAndGlyphs">02:08:07</text>
<path d="M951.5 556.1 H998 Q1000 556.1 1000 558.1 V569.6 Q1000 571.6 998 571.6 H951.5 Z" fill="#22a393"/>
<text x="995.9" y="568.1" font-size="12.3" fill="#ffffff" text-anchor="end" textLength="35.4" lengthAdjust="spacingAndGlyphs" stroke="#ffffff" stroke-width="0.25">18.23 K</text>
<g clip-path="url(#taxis)"><text x="7.08" y="600.0" font-size="11.2" fill="#343843" textLength="11.67" lengthAdjust="spacingAndGlyphs" stroke="#343843" stroke-width="0.25">28</text><text x="76.16" y="600.0" font-size="11.2" fill="#343843" font-weight="bold" textLength="18.27" lengthAdjust="spacingAndGlyphs" stroke="#343843" stroke-width="0.3">Oct</text><text x="149.23" y="600.0" font-size="11.2" fill="#343843" textLength="6.56" lengthAdjust="spacingAndGlyphs" stroke="#343843" stroke-width="0.25">3</text><text x="216.28" y="600.0" font-size="11.2" fill="#343843" textLength="6.85" lengthAdjust="spacingAndGlyphs" stroke="#343843" stroke-width="0.25">7</text><text x="283.23" y="600.0" font-size="11.2" fill="#343843" textLength="7.06" lengthAdjust="spacingAndGlyphs" stroke="#343843" stroke-width="0.25">9</text><text x="342.80" y="600.0" font-size="11.2" fill="#343843" textLength="11.86" lengthAdjust="spacingAndGlyphs" stroke="#343843" stroke-width="0.25">12</text><text x="415.82" y="600.0" font-size="11.2" fill="#343843" textLength="11.51" lengthAdjust="spacingAndGlyphs" stroke="#343843" stroke-width="0.25">15</text><text x="482.94" y="600.0" font-size="11.2" fill="#343843" textLength="12.03" lengthAdjust="spacingAndGlyphs" stroke="#343843" stroke-width="0.25">17</text><text x="549.26" y="600.0" font-size="11.2" fill="#343843" textLength="12.05" lengthAdjust="spacingAndGlyphs" stroke="#343843" stroke-width="0.25">21</text><text x="617.28" y="600.0" font-size="11.2" fill="#343843" textLength="11.56" lengthAdjust="spacingAndGlyphs" stroke="#343843" stroke-width="0.25">23</text><text x="678.96" y="600.0" font-size="11.2" fill="#343843" textLength="12.00" lengthAdjust="spacingAndGlyphs" stroke="#343843" stroke-width="0.25">26</text><text x="751.35" y="600.0" font-size="11.2" fill="#343843" textLength="12.27" lengthAdjust="spacingAndGlyphs" stroke="#343843" stroke-width="0.25">29</text><text x="842.41" y="600.0" font-size="11.2" fill="#343843" font-weight="bold" textLength="20.03" lengthAdjust="spacingAndGlyphs" stroke="#343843" stroke-width="0.3">Nov</text><text x="922.45" y="600.0" font-size="11.2" fill="#343843" textLength="6.32" lengthAdjust="spacingAndGlyphs" stroke="#343843" stroke-width="0.25">5</text></g>
<text x="17.00" y="44.2" font-size="12" fill="#484b55" textLength="27.98" lengthAdjust="spacingAndGlyphs" stroke="#484b55" stroke-width="0.25">Silver</text><text x="49.20" y="44.2" font-size="12" fill="#484b55" textLength="3.77" lengthAdjust="spacingAndGlyphs" stroke="#484b55" stroke-width="0.25">/</text><text x="57.18" y="44.2" font-size="12" fill="#484b55" textLength="21.15" lengthAdjust="spacingAndGlyphs" stroke="#484b55" stroke-width="0.25">U.S.</text><text x="81.68" y="44.2" font-size="12" fill="#484b55" textLength="30.12" lengthAdjust="spacingAndGlyphs" stroke="#484b55" stroke-width="0.25">Dollar</text><text x="114.66" y="44.2" font-size="12" fill="#484b55" textLength="4.56" lengthAdjust="spacingAndGlyphs" stroke="#484b55" stroke-width="0.25">·</text><text x="121.86" y="44.2" font-size="12" fill="#484b55" textLength="13.35" lengthAdjust="spacingAndGlyphs" stroke="#484b55" stroke-width="0.25">4h</text><text x="137.56" y="44.2" font-size="12" fill="#484b55" textLength="4.56" lengthAdjust="spacingAndGlyphs" stroke="#484b55" stroke-width="0.25">·</text><text x="145.06" y="44.2" font-size="12" fill="#484b55" textLength="35.06" lengthAdjust="spacingAndGlyphs" stroke="#484b55" stroke-width="0.25">OANDA</text><text x="186.59" y="44.2" font-size="12" fill="#484b55" textLength="7.04" lengthAdjust="spacingAndGlyphs" stroke="#484b55" stroke-width="0.25">O</text><text x="245.93" y="44.2" font-size="12" fill="#484b55" textLength="7.87" lengthAdjust="spacingAndGlyphs" stroke="#484b55" stroke-width="0.25">H</text><text x="305.34" y="44.2" font-size="12" fill="#484b55" textLength="6.00" lengthAdjust="spacingAndGlyphs" stroke="#484b55" stroke-width="0.25">L</text><text x="362.95" y="44.2" font-size="12" fill="#484b55" textLength="6.48" lengthAdjust="spacingAndGlyphs" stroke="#484b55" stroke-width="0.25">C</text><text x="194.79" y="44.2" font-size="12" fill="#1a9f89" textLength="44.55" lengthAdjust="spacingAndGlyphs" stroke="#1a9f89" stroke-width="0.25">48.13015</text><text x="254.49" y="44.2" font-size="12" fill="#1a9f89" textLength="43.99" lengthAdjust="spacingAndGlyphs" stroke="#1a9f89" stroke-width="0.25">48.15500</text><text x="311.99" y="44.2" font-size="12" fill="#1a9f89" textLength="44.25" lengthAdjust="spacingAndGlyphs" stroke="#1a9f89" stroke-width="0.25">47.63505</text><text x="370.28" y="44.2" font-size="12" fill="#1a9f89" textLength="44.96" lengthAdjust="spacingAndGlyphs" stroke="#1a9f89" stroke-width="0.25">48.13165</text><text x="422.67" y="44.2" font-size="12" fill="#1a9f89" textLength="44.34" lengthAdjust="spacingAndGlyphs" stroke="#1a9f89" stroke-width="0.25">−0.00635</text><text x="470.78" y="44.2" font-size="12" fill="#1a9f89" textLength="42.14" lengthAdjust="spacingAndGlyphs" stroke="#1a9f89" stroke-width="0.25">(−0.01%)</text><text x="17.45" y="59.6" font-size="12" fill="#484b55" textLength="14.85" lengthAdjust="spacingAndGlyphs" stroke="#484b55" stroke-width="0.25">Vol</text><text x="34.66" y="59.6" font-size="12" fill="#484b55" textLength="4.56" lengthAdjust="spacingAndGlyphs" stroke="#484b55" stroke-width="0.25">·</text><text x="42.78" y="59.6" font-size="12" fill="#484b55" textLength="25.21" lengthAdjust="spacingAndGlyphs" stroke="#484b55" stroke-width="0.25">Ticks</text><text x="74.67" y="59.6" font-size="12" fill="#26ad98" textLength="27.70" lengthAdjust="spacingAndGlyphs" stroke="#26ad98" stroke-width="0.25">18.23</text><text x="102.61" y="59.6" font-size="12" fill="#26ad98" textLength="8.24" lengthAdjust="spacingAndGlyphs" stroke="#26ad98" stroke-width="0.25">K</text>
<g><circle cx="891.0" cy="570.4" r="8.4" fill="#ffffff" stroke="#a848c8" stroke-width="1.7"/><path d="M894.4 565.3 L888.5 571.4 L891.3 571.4 L889.0 576.0 L895.9 569.5 L892.9 569.5 L895.6 565.3 Z" fill="#a848c8"/><circle cx="908.9" cy="570.7" r="9.0" fill="#ffffff" stroke="#f0454f" stroke-width="1.8"/><clipPath id="flag"><circle cx="908.6" cy="570.6" r="7.4"/></clipPath><g clip-path="url(#flag)"><rect x="900" y="562" width="18" height="18" fill="#ffffff"/><rect x="900" y="564.3" width="18" height="1.9" fill="#f0454f"/><rect x="900" y="569.5" width="18" height="2.1" fill="#f0454f"/><rect x="900" y="575.1" width="18" height="2.2" fill="#f0454f"/><rect x="900" y="562" width="10.6" height="10.6" fill="#3a8ee8"/><circle cx="903.6" cy="565.2" r="0.5" fill="#ffffff" fill-opacity="0.8"/><circle cx="903.6" cy="567.7" r="0.5" fill="#ffffff" fill-opacity="0.8"/><circle cx="903.6" cy="570.2" r="0.5" fill="#ffffff" fill-opacity="0.8"/><circle cx="906.1" cy="565.2" r="0.5" fill="#ffffff" fill-opacity="0.8"/><circle cx="906.1" cy="567.7" r="0.5" fill="#ffffff" fill-opacity="0.8"/><circle cx="906.1" cy="570.2" r="0.5" fill="#ffffff" fill-opacity="0.8"/><circle cx="908.6" cy="565.2" r="0.5" fill="#ffffff" fill-opacity="0.8"/><circle cx="908.6" cy="567.7" r="0.5" fill="#ffffff" fill-opacity="0.8"/><circle cx="908.6" cy="570.2" r="0.5" fill="#ffffff" fill-opacity="0.8"/></g><circle cx="898.5" cy="563.7" r="3.4" fill="#ffffff"/><circle cx="898.5" cy="563.7" r="2.5" fill="#f23645"/></g>
<g fill="#131313"><path d="M11.5 629.5H22.6V643.3H17.4V634.5H11.5Z"/><circle cx="27.5" cy="632.2" r="2.7"/><path d="M33 629.5H39.25L34 643.3H27.9Z"/></g>
<text x="46.19" y="642.9" font-size="18.3" fill="#131313" textLength="112.07" lengthAdjust="spacingAndGlyphs" stroke="#131313" stroke-width="0.85">TradingView</text>
</svg></body></html>
